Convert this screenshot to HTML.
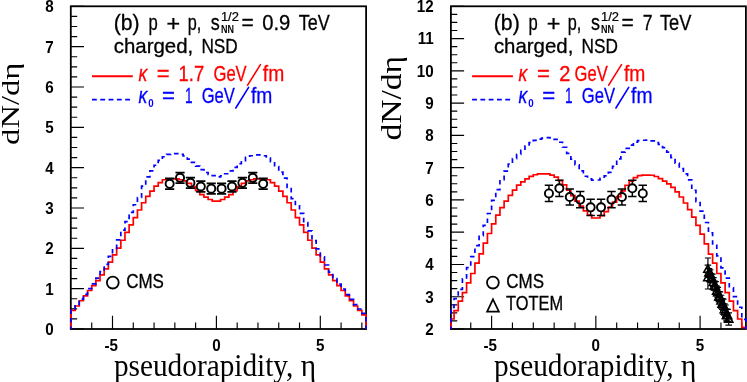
<!DOCTYPE html>
<html><head><meta charset="utf-8"><title>dN/deta</title>
<style>
html,body{margin:0;padding:0;background:#fff;}
body{width:747px;height:382px;overflow:hidden;}
svg{display:block;will-change:transform;}
text{font-family:"Liberation Sans",sans-serif;fill:#000;stroke-width:0;}
.tk{font-weight:bold;font-size:16px;}
.cm{font-size:21.5px;}
.cm,.cm2,.cm3,.cmi{stroke:#000;stroke-width:0.3px;}
.cm2{font-size:20px;}
.cm3{font-size:19.5px;}
.cmi{font-size:21.5px;font-style:italic;}
.sup{font-size:13.2px;stroke:#000;stroke-width:0.25px;}
.sub{font-size:11.5px;font-weight:bold;}
.ax{font-family:"Liberation Serif",serif;font-size:31px;}
.ay{font-family:"Liberation Serif",serif;font-size:24.8px;}
.ay2{font-family:"Liberation Serif",serif;font-size:28.8px;}
</style></head><body>
<svg width="747" height="382" viewBox="0 0 747 382">
<rect width="747" height="382" fill="#fff"/>
<path d="M70.8 329h13.2 M70.8 318.92h6.4 M70.8 308.83h6.4 M70.8 298.75h6.4 M70.8 288.66h13.2 M70.8 278.58h6.4 M70.8 268.49h6.4 M70.8 258.41h6.4 M70.8 248.32h13.2 M70.8 238.24h6.4 M70.8 228.16h6.4 M70.8 218.07h6.4 M70.8 207.99h13.2 M70.8 197.9h6.4 M70.8 187.82h6.4 M70.8 177.73h6.4 M70.8 167.65h13.2 M70.8 157.57h6.4 M70.8 147.48h6.4 M70.8 137.4h6.4 M70.8 127.31h13.2 M70.8 117.23h6.4 M70.8 107.14h6.4 M70.8 97.06h6.4 M70.8 86.98h13.2 M70.8 76.89h6.4 M70.8 66.81h6.4 M70.8 56.72h6.4 M70.8 46.64h13.2 M70.8 36.55h6.4 M70.8 26.47h6.4 M70.8 16.38h6.4 M70.8 6.3h13.2 M91.72 329v-6.4 M112.5 329v-13.2 M133.28 329v-6.4 M154.06 329v-6.4 M174.84 329v-6.4 M195.62 329v-6.4 M216.4 329v-13.2 M237.18 329v-6.4 M257.96 329v-6.4 M278.74 329v-6.4 M299.52 329v-6.4 M320.3 329v-13.2 M341.08 329v-6.4 M361.86 329v-6.4" stroke="#000" stroke-width="1.15" fill="none"/>
<path d="M450.9 329h13.2 M450.9 320.93h6.4 M450.9 312.87h6.4 M450.9 304.8h6.4 M450.9 296.73h13.2 M450.9 288.66h6.4 M450.9 280.6h6.4 M450.9 272.53h6.4 M450.9 264.46h13.2 M450.9 256.39h6.4 M450.9 248.32h6.4 M450.9 240.26h6.4 M450.9 232.19h13.2 M450.9 224.12h6.4 M450.9 216.06h6.4 M450.9 207.99h6.4 M450.9 199.92h13.2 M450.9 191.85h6.4 M450.9 183.79h6.4 M450.9 175.72h6.4 M450.9 167.65h13.2 M450.9 159.58h6.4 M450.9 151.52h6.4 M450.9 143.45h6.4 M450.9 135.38h13.2 M450.9 127.31h6.4 M450.9 119.25h6.4 M450.9 111.18h6.4 M450.9 103.11h13.2 M450.9 95.04h6.4 M450.9 86.97h6.4 M450.9 78.91h6.4 M450.9 70.84h13.2 M450.9 62.77h6.4 M450.9 54.71h6.4 M450.9 46.64h6.4 M450.9 38.57h13.2 M450.9 30.5h6.4 M450.9 22.44h6.4 M450.9 14.37h6.4 M450.9 6.3h13.2 M470.75 329v-6.4 M491.6 329v-13.2 M512.45 329v-6.4 M533.3 329v-6.4 M554.15 329v-6.4 M575 329v-6.4 M595.85 329v-13.2 M616.7 329v-6.4 M637.55 329v-6.4 M658.4 329v-6.4 M679.25 329v-6.4 M700.1 329v-13.2 M720.95 329v-6.4 M741.8 329v-6.4" stroke="#000" stroke-width="1.15" fill="none"/>
<rect x="70.8" y="6.3" width="295.3" height="322.7" fill="none" stroke="#000" stroke-width="1.8"/>
<rect x="450.9" y="6.3" width="295" height="322.7" fill="none" stroke="#000" stroke-width="1.8"/>
<path d="M70.8 329 L70.94 310.44 L75.1 310.44 L75.1 306.01 L79.25 306.01 L79.25 300.76 L83.41 300.76 L83.41 295.92 L87.56 295.92 L87.56 290.48 L91.72 290.48 L91.72 285.64 L95.88 285.64 L95.88 280.6 L100.03 280.6 L100.03 274.95 L104.19 274.95 L104.19 268.9 L108.34 268.9 L108.34 262.04 L112.5 262.04 L112.5 254.94 L116.66 254.94 L116.66 248.12 L120.81 248.12 L120.81 240.26 L124.97 240.26 L124.97 232.39 L129.12 232.39 L129.12 224.93 L133.28 224.93 L133.28 217.67 L137.44 217.67 L137.44 210 L141.59 210 L141.59 202.74 L145.75 202.74 L145.75 196.29 L149.9 196.29 L149.9 191.05 L154.06 191.05 L154.06 186.21 L158.22 186.21 L158.22 182.57 L162.37 182.57 L162.37 179.75 L166.53 179.75 L166.53 178.94 L170.68 178.94 L170.68 178.74 L174.84 178.74 L174.84 178.94 L179 178.94 L179 179.75 L183.15 179.75 L183.15 180.96 L187.31 180.96 L187.31 183.38 L191.46 183.38 L191.46 186.61 L195.62 186.61 L195.62 190.64 L199.78 190.64 L199.78 194.68 L203.93 194.68 L203.93 197.1 L208.09 197.1 L208.09 199.52 L212.24 199.52 L212.24 201.13 L216.4 201.13 L216.4 201.13 L220.56 201.13 L220.56 199.52 L224.71 199.52 L224.71 197.1 L228.87 197.1 L228.87 194.68 L233.02 194.68 L233.02 190.64 L237.18 190.64 L237.18 186.61 L241.34 186.61 L241.34 183.38 L245.49 183.38 L245.49 180.96 L249.65 180.96 L249.65 179.75 L253.8 179.75 L253.8 178.94 L257.96 178.94 L257.96 178.74 L262.12 178.74 L262.12 178.94 L266.27 178.94 L266.27 179.75 L270.43 179.75 L270.43 182.57 L274.58 182.57 L274.58 186.21 L278.74 186.21 L278.74 191.05 L282.9 191.05 L282.9 196.29 L287.05 196.29 L287.05 202.74 L291.21 202.74 L291.21 210 L295.36 210 L295.36 217.67 L299.52 217.67 L299.52 224.93 L303.68 224.93 L303.68 232.39 L307.83 232.39 L307.83 240.26 L311.99 240.26 L311.99 248.12 L316.14 248.12 L316.14 254.94 L320.3 254.94 L320.3 262.04 L324.46 262.04 L324.46 268.9 L328.61 268.9 L328.61 274.95 L332.77 274.95 L332.77 280.6 L336.92 280.6 L336.92 285.64 L341.08 285.64 L341.08 290.48 L345.24 290.48 L345.24 295.92 L349.39 295.92 L349.39 300.76 L353.55 300.76 L353.55 306.01 L357.7 306.01 L357.7 310.44 L361.86 310.44 L361.86 314.88 L366.02 314.88 L366.1 329" stroke="#f00" stroke-width="1.7" fill="none" stroke-linejoin="miter"/>
<path d="M70.8 329 L70.94 308.83 L75.1 308.83 L75.1 304.39 L79.25 304.39 L79.25 299.15 L83.41 299.15 L83.41 294.31 L87.56 294.31 L87.56 288.66 L91.72 288.66 L91.72 283.82 L95.88 283.82 L95.88 278.17 L100.03 278.17 L100.03 271.72 L104.19 271.72 L104.19 264.46 L108.34 264.46 L108.34 256.39 L112.5 256.39 L112.5 248.32 L116.66 248.32 L116.66 239.85 L120.81 239.85 L120.81 230.17 L124.97 230.17 L124.97 221.7 L129.12 221.7 L129.12 212.42 L133.28 212.42 L133.28 204.76 L137.44 204.76 L137.44 197.5 L141.59 197.5 L141.59 186.21 L145.75 186.21 L145.75 176.93 L149.9 176.93 L149.9 170.88 L154.06 170.88 L154.06 165.23 L158.22 165.23 L158.22 160.39 L162.37 160.39 L162.37 156.76 L166.53 156.76 L166.53 154.34 L170.68 154.34 L170.68 153.53 L174.84 153.53 L174.84 153.53 L179 153.53 L179 154.34 L183.15 154.34 L183.15 155.95 L187.31 155.95 L187.31 159.18 L191.46 159.18 L191.46 162.41 L195.62 162.41 L195.62 166.04 L199.78 166.04 L199.78 169.67 L203.93 169.67 L203.93 172.49 L208.09 172.49 L208.09 174.51 L212.24 174.51 L212.24 175.72 L216.4 175.72 L216.4 176.94 L220.56 176.94 L220.56 175.74 L224.71 175.74 L224.71 173.74 L228.87 173.74 L228.87 170.94 L233.02 170.94 L233.02 167.34 L237.18 167.34 L237.18 163.74 L241.34 163.74 L241.34 160.54 L245.49 160.54 L245.49 157.34 L249.65 157.34 L249.65 155.74 L253.8 155.74 L253.8 154.94 L257.96 154.94 L257.96 154.94 L262.12 154.94 L262.12 155.74 L266.27 155.74 L266.27 158.14 L270.43 158.14 L270.43 161.74 L274.58 161.74 L274.58 166.54 L278.74 166.54 L278.74 172.14 L282.9 172.14 L282.9 178.14 L287.05 178.14 L287.05 187.35 L291.21 187.35 L291.21 198.55 L295.36 198.55 L295.36 205.75 L299.52 205.75 L299.52 213.36 L303.68 213.36 L303.68 222.56 L307.83 222.56 L307.83 230.96 L311.99 230.96 L311.99 240.57 L316.14 240.57 L316.14 248.97 L320.3 248.97 L320.3 256.97 L324.46 256.97 L324.46 264.98 L328.61 264.98 L328.61 272.18 L332.77 272.18 L332.77 278.58 L336.92 278.58 L336.92 284.18 L341.08 284.18 L341.08 288.99 L345.24 288.99 L345.24 294.59 L349.39 294.59 L349.39 299.39 L353.55 299.39 L353.55 304.59 L357.7 304.59 L357.7 308.99 L361.86 308.99 L361.86 313.39 L366.02 313.39 L366.1 329" stroke="#00f" stroke-width="1.7" fill="none" stroke-dasharray="4.6 3.9" stroke-dashoffset="2"/>
<path d="M450.9 329 L450.9 319 L454.07 319 L454.07 310.61 L458.24 310.61 L458.24 301.09 L462.41 301.09 L462.41 292.53 L466.58 292.53 L466.58 282.85 L470.75 282.85 L470.75 273.5 L474.92 273.5 L474.92 263.17 L479.09 263.17 L479.09 253.81 L483.26 253.81 L483.26 243.16 L487.43 243.16 L487.43 233.48 L491.6 233.48 L491.6 223.8 L495.77 223.8 L495.77 215.09 L499.94 215.09 L499.94 207.66 L504.11 207.66 L504.11 201.21 L508.28 201.21 L508.28 195.4 L512.45 195.4 L512.45 190.08 L516.62 190.08 L516.62 185.08 L520.79 185.08 L520.79 181.85 L524.96 181.85 L524.96 178.94 L529.13 178.94 L529.13 176.36 L533.3 176.36 L533.3 174.75 L537.47 174.75 L537.47 173.94 L541.64 173.94 L541.64 173.94 L545.81 173.94 L545.81 173.94 L549.98 173.94 L549.98 175.07 L554.15 175.07 L554.15 177.17 L558.32 177.17 L558.32 180.56 L562.49 180.56 L562.49 184.91 L566.66 184.91 L566.66 190.08 L570.83 190.08 L570.83 195.72 L575 195.72 L575 201.05 L579.17 201.05 L579.17 206.05 L583.34 206.05 L583.34 210.89 L587.51 210.89 L587.51 215.09 L591.68 215.09 L591.68 217.99 L595.85 217.99 L595.85 217.99 L600.02 217.99 L600.02 215.57 L604.19 215.57 L604.19 211.7 L608.36 211.7 L608.36 207.18 L612.53 207.18 L612.53 202.18 L616.7 202.18 L616.7 196.69 L620.87 196.69 L620.87 190.88 L625.04 190.88 L625.04 185.24 L629.21 185.24 L629.21 181.2 L633.38 181.2 L633.38 177.65 L637.55 177.65 L637.55 175.72 L641.72 175.72 L641.72 175.07 L645.89 175.07 L645.89 175.07 L650.06 175.07 L650.06 175.23 L654.23 175.23 L654.23 176.52 L658.4 176.52 L658.4 178.62 L662.57 178.62 L662.57 181.2 L666.74 181.2 L666.74 183.79 L670.91 183.79 L670.91 187.33 L675.08 187.33 L675.08 191.85 L679.25 191.85 L679.25 197.02 L683.42 197.02 L683.42 202.99 L687.59 202.99 L687.59 209.6 L691.76 209.6 L691.76 217.18 L695.93 217.18 L695.93 225.41 L700.1 225.41 L700.1 234.13 L704.27 234.13 L704.27 243.81 L708.44 243.81 L708.44 254.13 L712.61 254.13 L712.61 263.17 L716.78 263.17 L716.78 273.5 L720.95 273.5 L720.95 282.85 L725.12 282.85 L725.12 292.53 L729.29 292.53 L729.29 301.09 L733.46 301.09 L733.46 310.61 L737.63 310.61 L737.63 319 L741.8 319 L741.8 327.39 L745.9 327.39 L745.9 329" stroke="#f00" stroke-width="1.7" fill="none" stroke-linejoin="miter"/>
<path d="M450.9 329 L450.9 307.38 L454.07 307.38 L454.07 298.53 L458.24 298.53 L458.24 289.31 L462.41 289.31 L462.41 278.77 L466.58 278.77 L466.58 267.69 L470.75 267.69 L470.75 256.53 L474.92 256.53 L474.92 245.71 L479.09 245.71 L479.09 235.59 L483.26 235.59 L483.26 225.33 L487.43 225.33 L487.43 213.51 L491.6 213.51 L491.6 200.42 L495.77 200.42 L495.77 189.59 L499.94 189.59 L499.94 179.59 L504.11 179.59 L504.11 171.11 L508.28 171.11 L508.28 164.21 L512.45 164.21 L512.45 158.54 L516.62 158.54 L516.62 154.31 L520.79 154.31 L520.79 150.46 L524.96 150.46 L524.96 146 L529.13 146 L529.13 142.62 L533.3 142.62 L533.3 140.31 L537.47 140.31 L537.47 139.05 L541.64 139.05 L541.64 138.15 L545.81 138.15 L545.81 137.67 L549.98 137.67 L549.98 138 L554.15 138 L554.15 139.45 L558.32 139.45 L558.32 142.24 L562.49 142.24 L562.49 147.27 L566.66 147.27 L566.66 153.42 L570.83 153.42 L570.83 159.13 L575 159.13 L575 164.8 L579.17 164.8 L579.17 170.92 L583.34 170.92 L583.34 176.26 L587.51 176.26 L587.51 178.9 L591.68 178.9 L591.68 180.04 L595.85 180.04 L595.85 179.98 L600.02 179.98 L600.02 178.3 L604.19 178.3 L604.19 175.88 L608.36 175.88 L608.36 172.36 L612.53 172.36 L612.53 166.46 L616.7 166.46 L616.7 158.86 L620.87 158.86 L620.87 152.22 L625.04 152.22 L625.04 148.28 L629.21 148.28 L629.21 145.05 L633.38 145.05 L633.38 142.06 L637.55 142.06 L637.55 140.71 L641.72 140.71 L641.72 140.24 L645.89 140.24 L645.89 140.06 L650.06 140.06 L650.06 140.89 L654.23 140.89 L654.23 142.48 L658.4 142.48 L658.4 144.42 L662.57 144.42 L662.57 147.64 L666.74 147.64 L666.74 152.16 L670.91 152.16 L670.91 157.65 L675.08 157.65 L675.08 163.13 L679.25 163.13 L679.25 168.62 L683.42 168.62 L683.42 173.78 L687.59 173.78 L687.59 179.91 L691.76 179.91 L691.76 190.24 L695.93 190.24 L695.93 201.53 L700.1 201.53 L700.1 211.21 L704.27 211.21 L704.27 222.51 L708.44 222.51 L708.44 232.84 L712.61 232.84 L712.61 243.85 L716.78 243.85 L716.78 255.88 L720.95 255.88 L720.95 267.82 L725.12 267.82 L725.12 278.14 L729.29 278.14 L729.29 287.78 L733.46 287.78 L733.46 296.7 L737.63 296.7 L737.63 307.23 L741.8 307.23 L741.8 319.32 L745.9 319.32 L745.9 329" stroke="#00f" stroke-width="1.7" fill="none" stroke-dasharray="4.6 3.9" stroke-dashoffset="2"/>
<text transform="translate(53.6 334.9) scale(0.95 1)" text-anchor="end" class="tk">0</text>
<text transform="translate(53.6 294.56) scale(0.95 1)" text-anchor="end" class="tk">1</text>
<text transform="translate(53.6 254.22) scale(0.95 1)" text-anchor="end" class="tk">2</text>
<text transform="translate(53.6 213.89) scale(0.95 1)" text-anchor="end" class="tk">3</text>
<text transform="translate(53.6 173.55) scale(0.95 1)" text-anchor="end" class="tk">4</text>
<text transform="translate(53.6 133.21) scale(0.95 1)" text-anchor="end" class="tk">5</text>
<text transform="translate(53.6 92.88) scale(0.95 1)" text-anchor="end" class="tk">6</text>
<text transform="translate(53.6 52.54) scale(0.95 1)" text-anchor="end" class="tk">7</text>
<text transform="translate(53.6 12.2) scale(0.95 1)" text-anchor="end" class="tk">8</text>
<text transform="translate(111.2 351.4) scale(0.95 1)" text-anchor="middle" class="tk">-5</text>
<text transform="translate(216.4 351.4) scale(0.95 1)" text-anchor="middle" class="tk">0</text>
<text transform="translate(320.3 351.4) scale(0.95 1)" text-anchor="middle" class="tk">5</text>
<text transform="translate(433.7 334.9) scale(0.95 1)" text-anchor="end" class="tk">2</text>
<text transform="translate(433.7 302.63) scale(0.95 1)" text-anchor="end" class="tk">3</text>
<text transform="translate(433.7 270.36) scale(0.95 1)" text-anchor="end" class="tk">4</text>
<text transform="translate(433.7 238.09) scale(0.95 1)" text-anchor="end" class="tk">5</text>
<text transform="translate(433.7 205.82) scale(0.95 1)" text-anchor="end" class="tk">6</text>
<text transform="translate(433.7 173.55) scale(0.95 1)" text-anchor="end" class="tk">7</text>
<text transform="translate(433.7 141.28) scale(0.95 1)" text-anchor="end" class="tk">8</text>
<text transform="translate(433.7 109.01) scale(0.95 1)" text-anchor="end" class="tk">9</text>
<text transform="translate(433.7 76.74) scale(0.95 1)" text-anchor="end" class="tk">10</text>
<text transform="translate(433.7 44.47) scale(0.95 1)" text-anchor="end" class="tk">11</text>
<text transform="translate(433.7 12.2) scale(0.95 1)" text-anchor="end" class="tk">12</text>
<text transform="translate(490.3 351.4) scale(0.95 1)" text-anchor="middle" class="tk">-5</text>
<text transform="translate(595.85 351.4) scale(0.95 1)" text-anchor="middle" class="tk">0</text>
<text transform="translate(700.1 351.4) scale(0.95 1)" text-anchor="middle" class="tk">5</text>
<path d="M169.65 178.48V179.73 M169.65 187.84V189.09 M165.05 178.48h9.2 M165.05 189.09h9.2" stroke="#000" stroke-width="1.8" fill="none"/>
<circle cx="169.65" cy="183.78" r="4.05" fill="none" stroke="#000" stroke-width="1.9"/>
<path d="M180.03 172.56V173.81 M180.03 181.91V183.16 M175.44 172.56h9.2 M175.44 183.16h9.2" stroke="#000" stroke-width="1.8" fill="none"/>
<circle cx="180.03" cy="177.86" r="4.05" fill="none" stroke="#000" stroke-width="1.9"/>
<path d="M190.43 177.56V178.81 M190.43 186.91V188.16 M185.83 177.56h9.2 M185.83 188.16h9.2" stroke="#000" stroke-width="1.8" fill="none"/>
<circle cx="190.43" cy="182.86" r="4.05" fill="none" stroke="#000" stroke-width="1.9"/>
<path d="M200.81 181.19V182.44 M200.81 190.54V191.79 M196.22 181.19h9.2 M196.22 191.79h9.2" stroke="#000" stroke-width="1.8" fill="none"/>
<circle cx="200.81" cy="186.49" r="4.05" fill="none" stroke="#000" stroke-width="1.9"/>
<path d="M211.21 183.33V184.58 M211.21 192.68V193.93 M206.61 183.33h9.2 M206.61 193.93h9.2" stroke="#000" stroke-width="1.8" fill="none"/>
<circle cx="211.21" cy="188.63" r="4.05" fill="none" stroke="#000" stroke-width="1.9"/>
<path d="M221.59 183.33V184.58 M221.59 192.68V193.93 M217 183.33h9.2 M217 193.93h9.2" stroke="#000" stroke-width="1.8" fill="none"/>
<circle cx="221.59" cy="188.63" r="4.05" fill="none" stroke="#000" stroke-width="1.9"/>
<path d="M231.99 181.19V182.44 M231.99 190.54V191.79 M227.39 181.19h9.2 M227.39 191.79h9.2" stroke="#000" stroke-width="1.8" fill="none"/>
<circle cx="231.99" cy="186.49" r="4.05" fill="none" stroke="#000" stroke-width="1.9"/>
<path d="M242.38 177.56V178.81 M242.38 186.91V188.16 M237.78 177.56h9.2 M237.78 188.16h9.2" stroke="#000" stroke-width="1.8" fill="none"/>
<circle cx="242.38" cy="182.86" r="4.05" fill="none" stroke="#000" stroke-width="1.9"/>
<path d="M252.77 172.56V173.81 M252.77 181.91V183.16 M248.17 172.56h9.2 M248.17 183.16h9.2" stroke="#000" stroke-width="1.8" fill="none"/>
<circle cx="252.77" cy="177.86" r="4.05" fill="none" stroke="#000" stroke-width="1.9"/>
<path d="M263.16 178.48V179.73 M263.16 187.84V189.09 M258.56 178.48h9.2 M258.56 189.09h9.2" stroke="#000" stroke-width="1.8" fill="none"/>
<circle cx="263.16" cy="183.78" r="4.05" fill="none" stroke="#000" stroke-width="1.9"/>
<path d="M548.94 185.37V189.42 M548.94 197.52V201.57 M544.74 185.37h8.4 M544.74 201.57h8.4" stroke="#000" stroke-width="1.5" fill="none"/>
<circle cx="548.94" cy="193.47" r="4.05" fill="none" stroke="#000" stroke-width="1.9"/>
<path d="M559.36 180.2V184.25 M559.36 192.35V196.4 M555.16 180.2h8.4 M555.16 196.4h8.4" stroke="#000" stroke-width="1.5" fill="none"/>
<circle cx="559.36" cy="188.3" r="4.05" fill="none" stroke="#000" stroke-width="1.9"/>
<path d="M569.79 188.92V192.97 M569.79 201.07V205.12 M565.59 188.92h8.4 M565.59 205.12h8.4" stroke="#000" stroke-width="1.5" fill="none"/>
<circle cx="569.79" cy="197.02" r="4.05" fill="none" stroke="#000" stroke-width="1.9"/>
<path d="M580.21 191.5V195.55 M580.21 203.65V207.7 M576.01 191.5h8.4 M576.01 207.7h8.4" stroke="#000" stroke-width="1.5" fill="none"/>
<circle cx="580.21" cy="199.6" r="4.05" fill="none" stroke="#000" stroke-width="1.9"/>
<path d="M590.64 199.24V203.29 M590.64 211.39V215.44 M586.44 199.24h8.4 M586.44 215.44h8.4" stroke="#000" stroke-width="1.5" fill="none"/>
<circle cx="590.64" cy="207.34" r="4.05" fill="none" stroke="#000" stroke-width="1.9"/>
<path d="M601.06 199.24V203.29 M601.06 211.39V215.44 M596.86 199.24h8.4 M596.86 215.44h8.4" stroke="#000" stroke-width="1.5" fill="none"/>
<circle cx="601.06" cy="207.34" r="4.05" fill="none" stroke="#000" stroke-width="1.9"/>
<path d="M611.49 191.5V195.55 M611.49 203.65V207.7 M607.29 191.5h8.4 M607.29 207.7h8.4" stroke="#000" stroke-width="1.5" fill="none"/>
<circle cx="611.49" cy="199.6" r="4.05" fill="none" stroke="#000" stroke-width="1.9"/>
<path d="M621.91 188.92V192.97 M621.91 201.07V205.12 M617.71 188.92h8.4 M617.71 205.12h8.4" stroke="#000" stroke-width="1.5" fill="none"/>
<circle cx="621.91" cy="197.02" r="4.05" fill="none" stroke="#000" stroke-width="1.9"/>
<path d="M632.34 180.2V184.25 M632.34 192.35V196.4 M628.14 180.2h8.4 M628.14 196.4h8.4" stroke="#000" stroke-width="1.5" fill="none"/>
<circle cx="632.34" cy="188.3" r="4.05" fill="none" stroke="#000" stroke-width="1.9"/>
<path d="M642.76 185.37V189.42 M642.76 197.52V201.57 M638.56 185.37h8.4 M638.56 201.57h8.4" stroke="#000" stroke-width="1.5" fill="none"/>
<circle cx="642.76" cy="193.47" r="4.05" fill="none" stroke="#000" stroke-width="1.9"/>
<path d="M707.92 258.01V288.99 M704.82 258.01h6.2 M704.82 288.99h6.2" stroke="#000" stroke-width="1.2" fill="none"/>
<path d="M707.92 273.07L712.22 280.81L703.62 280.81Z" fill="none" stroke="#000" stroke-width="1.5" stroke-linejoin="miter"/>
<path d="M707.92 265.11V272.85 M704.62 265.11h6.6 M704.62 272.85h6.6" stroke="#000" stroke-width="1.2" fill="none"/>
<path d="M707.92 264.78L712.12 272.34L703.72 272.34Z" fill="none" stroke="#000" stroke-width="1.5" stroke-linejoin="miter"/>
<path d="M709.01 268.59V276.57 M705.71 268.59h6.6 M705.71 276.57h6.6" stroke="#000" stroke-width="1.2" fill="none"/>
<path d="M709.01 268.38L713.21 275.94L704.81 275.94Z" fill="none" stroke="#000" stroke-width="1.5" stroke-linejoin="miter"/>
<path d="M710.11 269.81V278.03 M706.81 269.81h6.6 M706.81 278.03h6.6" stroke="#000" stroke-width="1.2" fill="none"/>
<path d="M710.11 269.72L714.31 277.28L705.91 277.28Z" fill="none" stroke="#000" stroke-width="1.5" stroke-linejoin="miter"/>
<path d="M711.2 273.94V282.4 M707.9 273.94h6.6 M707.9 282.4h6.6" stroke="#000" stroke-width="1.2" fill="none"/>
<path d="M711.2 273.97L715.4 281.53L707 281.53Z" fill="none" stroke="#000" stroke-width="1.5" stroke-linejoin="miter"/>
<path d="M712.3 274.19V282.89 M709 274.19h6.6 M709 282.89h6.6" stroke="#000" stroke-width="1.2" fill="none"/>
<path d="M712.3 274.34L716.5 281.9L708.1 281.9Z" fill="none" stroke="#000" stroke-width="1.5" stroke-linejoin="miter"/>
<path d="M713.39 277.67V286.61 M710.09 277.67h6.6 M710.09 286.61h6.6" stroke="#000" stroke-width="1.2" fill="none"/>
<path d="M713.39 277.94L717.59 285.5L709.19 285.5Z" fill="none" stroke="#000" stroke-width="1.5" stroke-linejoin="miter"/>
<path d="M714.49 280.99V290.17 M711.19 280.99h6.6 M711.19 290.17h6.6" stroke="#000" stroke-width="1.2" fill="none"/>
<path d="M714.49 281.38L718.69 288.94L710.29 288.94Z" fill="none" stroke="#000" stroke-width="1.5" stroke-linejoin="miter"/>
<path d="M715.58 281.57V290.98 M712.28 281.57h6.6 M712.28 290.98h6.6" stroke="#000" stroke-width="1.2" fill="none"/>
<path d="M715.58 282.08L719.78 289.64L711.38 289.64Z" fill="none" stroke="#000" stroke-width="1.5" stroke-linejoin="miter"/>
<path d="M716.68 286.18V295.83 M713.38 286.18h6.6 M713.38 295.83h6.6" stroke="#000" stroke-width="1.2" fill="none"/>
<path d="M716.68 286.81L720.88 294.37L712.48 294.37Z" fill="none" stroke="#000" stroke-width="1.5" stroke-linejoin="miter"/>
<path d="M717.77 287.41V297.29 M714.47 287.41h6.6 M714.47 297.29h6.6" stroke="#000" stroke-width="1.2" fill="none"/>
<path d="M717.77 288.15L721.97 295.71L713.57 295.71Z" fill="none" stroke="#000" stroke-width="1.5" stroke-linejoin="miter"/>
<path d="M718.87 291.53V301.66 M715.57 291.53h6.6 M715.57 301.66h6.6" stroke="#000" stroke-width="1.2" fill="none"/>
<path d="M718.87 292.39L723.07 299.95L714.66 299.95Z" fill="none" stroke="#000" stroke-width="1.5" stroke-linejoin="miter"/>
<path d="M719.96 291.79V302.15 M716.66 291.79h6.6 M716.66 302.15h6.6" stroke="#000" stroke-width="1.2" fill="none"/>
<path d="M719.96 292.77L724.16 300.33L715.76 300.33Z" fill="none" stroke="#000" stroke-width="1.5" stroke-linejoin="miter"/>
<path d="M721.05 295.27V305.87 M717.75 295.27h6.6 M717.75 305.87h6.6" stroke="#000" stroke-width="1.2" fill="none"/>
<path d="M721.05 296.37L725.25 303.93L716.85 303.93Z" fill="none" stroke="#000" stroke-width="1.5" stroke-linejoin="miter"/>
<path d="M722.15 298.59V309.43 M718.85 298.59h6.6 M718.85 309.43h6.6" stroke="#000" stroke-width="1.2" fill="none"/>
<path d="M722.15 299.81L726.35 307.37L717.95 307.37Z" fill="none" stroke="#000" stroke-width="1.5" stroke-linejoin="miter"/>
<path d="M723.24 299.17V310.24 M719.94 299.17h6.6 M719.94 310.24h6.6" stroke="#000" stroke-width="1.2" fill="none"/>
<path d="M723.24 300.5L727.44 308.06L719.04 308.06Z" fill="none" stroke="#000" stroke-width="1.5" stroke-linejoin="miter"/>
<path d="M724.34 303.78V315.09 M721.04 303.78h6.6 M721.04 315.09h6.6" stroke="#000" stroke-width="1.2" fill="none"/>
<path d="M724.34 305.23L728.54 312.79L720.14 312.79Z" fill="none" stroke="#000" stroke-width="1.5" stroke-linejoin="miter"/>
<path d="M725.43 305V316.55 M722.13 305h6.6 M722.13 316.55h6.6" stroke="#000" stroke-width="1.2" fill="none"/>
<path d="M725.43 306.58L729.63 314.14L721.23 314.14Z" fill="none" stroke="#000" stroke-width="1.5" stroke-linejoin="miter"/>
<path d="M726.53 309.13V320.92 M723.23 309.13h6.6 M723.23 320.92h6.6" stroke="#000" stroke-width="1.2" fill="none"/>
<path d="M726.53 310.82L730.73 318.38L722.33 318.38Z" fill="none" stroke="#000" stroke-width="1.5" stroke-linejoin="miter"/>
<path d="M727.62 309.38V321.41 M724.32 309.38h6.6 M724.32 321.41h6.6" stroke="#000" stroke-width="1.2" fill="none"/>
<path d="M727.62 311.2L731.82 318.76L723.42 318.76Z" fill="none" stroke="#000" stroke-width="1.5" stroke-linejoin="miter"/>
<path d="M728.72 312.87V325.13 M725.42 312.87h6.6 M725.42 325.13h6.6" stroke="#000" stroke-width="1.2" fill="none"/>
<path d="M728.72 314.8L732.92 322.36L724.52 322.36Z" fill="none" stroke="#000" stroke-width="1.5" stroke-linejoin="miter"/>
<text transform="translate(113.7 30.4) scale(0.9867 1.0500)" class="cm">(b)</text>
<text transform="translate(148.4 30.3) scale(0.7750 1.0000)" class="cm">p</text>
<text transform="translate(166.6 30.6) scale(1.0880 1.0400)" class="cm">+</text>
<text transform="translate(187.7 30.3) scale(0.7552 1.0000)" class="cm">p,</text>
<text transform="translate(210.8 30.3) scale(0.8372 1.0000)" class="cm">s</text>
<text transform="translate(220.9 21.2) scale(0.9778 1.0000)" class="sup">1/2</text>
<text transform="translate(221 32.7) scale(0.7820 1.0000)" class="sub">NN</text>
<text transform="translate(241.5 30.3) scale(0.9760 1.0000)" class="cm">=</text>
<text transform="translate(113.8 52.8) scale(1.0209 1.0000)" class="cm2">charged,</text>
<text transform="translate(201.4 52.8) scale(0.8615 1.0000)" class="cm2">NSD</text>
<path d="M92 76.3H132.8" stroke="#f00" stroke-width="1.9"/>
<path d="M92 99.6H130.2" stroke="#00f" stroke-width="1.9" stroke-dasharray="4.8 3.5"/>
<text transform="translate(138.4 80.5) scale(0.8170 1.0000)" class="cmi" style="fill:#f00;stroke:#f00">&#954;</text>
<text transform="translate(156.8 80.5) scale(1.0240 1.0000)" class="cm" style="fill:#f00;stroke:#f00">=</text>
<text transform="translate(138.4 103.3) scale(0.8170 1.0000)" class="cmi" style="fill:#00f;stroke:#00f">&#954;</text>
<text transform="translate(148.2 106.8) scale(0.8471 1.0000)" class="sub" style="fill:#00f;stroke:#00f">0</text>
<text transform="translate(162.1 103.3) scale(1.0320 1.0000)" class="cm" style="fill:#00f;stroke:#00f">=</text>
<text transform="translate(185 103.3) scale(0.6333 1.0000)" class="cm" style="fill:#00f;stroke:#00f">1</text>
<text transform="translate(201.7 103.3) scale(0.7721 1.0000)" class="cm" style="fill:#00f;stroke:#00f">GeV</text>
<path d="M235.8 108L248.6 87.4" stroke="#00f" stroke-width="1.6" stroke-linecap="round"/>
<text transform="translate(251 103.3) scale(0.8963 1.0000)" class="cm" style="fill:#00f;stroke:#00f">fm</text>
<circle cx="112.8" cy="282.6" r="5.9" fill="none" stroke="#000" stroke-width="1.8"/>
<text transform="translate(126.2 287.7) scale(0.8715 1.0000)" class="cm3">CMS</text>
<text transform="translate(493.8 30.4) scale(0.9867 1.0500)" class="cm">(b)</text>
<text transform="translate(528.5 30.3) scale(0.7750 1.0000)" class="cm">p</text>
<text transform="translate(546.7 30.6) scale(1.0880 1.0400)" class="cm">+</text>
<text transform="translate(567.8 30.3) scale(0.7552 1.0000)" class="cm">p,</text>
<text transform="translate(590.9 30.3) scale(0.8372 1.0000)" class="cm">s</text>
<text transform="translate(601 21.2) scale(0.9778 1.0000)" class="sup">1/2</text>
<text transform="translate(601.1 32.7) scale(0.7820 1.0000)" class="sub">NN</text>
<text transform="translate(621.6 30.3) scale(0.9760 1.0000)" class="cm">=</text>
<text transform="translate(493.9 52.8) scale(1.0209 1.0000)" class="cm2">charged,</text>
<text transform="translate(581.5 52.8) scale(0.8615 1.0000)" class="cm2">NSD</text>
<path d="M472.1 76.3H512.9" stroke="#f00" stroke-width="1.9"/>
<path d="M472.1 99.6H510.3" stroke="#00f" stroke-width="1.9" stroke-dasharray="4.8 3.5"/>
<text transform="translate(518.5 80.5) scale(0.8170 1.0000)" class="cmi" style="fill:#f00;stroke:#f00">&#954;</text>
<text transform="translate(536.9 80.5) scale(1.0240 1.0000)" class="cm" style="fill:#f00;stroke:#f00">=</text>
<text transform="translate(518.5 103.3) scale(0.8170 1.0000)" class="cmi" style="fill:#00f;stroke:#00f">&#954;</text>
<text transform="translate(528.3 106.8) scale(0.8471 1.0000)" class="sub" style="fill:#00f;stroke:#00f">0</text>
<text transform="translate(542.2 103.3) scale(1.0320 1.0000)" class="cm" style="fill:#00f;stroke:#00f">=</text>
<text transform="translate(565.1 103.3) scale(0.6333 1.0000)" class="cm" style="fill:#00f;stroke:#00f">1</text>
<text transform="translate(581.8 103.3) scale(0.7721 1.0000)" class="cm" style="fill:#00f;stroke:#00f">GeV</text>
<path d="M615.9 108L628.7 87.4" stroke="#00f" stroke-width="1.6" stroke-linecap="round"/>
<text transform="translate(631.1 103.3) scale(0.8963 1.0000)" class="cm" style="fill:#00f;stroke:#00f">fm</text>
<circle cx="492.9" cy="282.6" r="5.9" fill="none" stroke="#000" stroke-width="1.8"/>
<text transform="translate(506.3 287.7) scale(0.8715 1.0000)" class="cm3">CMS</text>
<text transform="translate(262.2 30.3) scale(0.9406 1.0000)" class="cm">0.9</text>
<text transform="translate(298.7 30.3) scale(0.8351 1.0000)" class="cm">TeV</text>
<text transform="translate(642.7 30.3) scale(0.8167 1.0000)" class="cm">7</text>
<text transform="translate(660 30.3) scale(0.8486 1.0000)" class="cm">TeV</text>
<text transform="translate(178.6 80.5) scale(0.8569 1.0000)" class="cm" style="fill:#f00;stroke:#f00">1.7</text>
<text transform="translate(213.5 80.5) scale(0.7721 1.0000)" class="cm" style="fill:#f00;stroke:#f00">GeV</text>
<path d="M247.6 85.2L260.4 64.6" stroke="#f00" stroke-width="1.6" stroke-linecap="round"/>
<text transform="translate(262.8 80.5) scale(0.8963 1.0000)" class="cm" style="fill:#f00;stroke:#f00">fm</text>
<text transform="translate(559.2 80.5) scale(0.9333 1.0000)" class="cm" style="fill:#f00;stroke:#f00">2</text>
<text transform="translate(574.6 80.5) scale(0.7721 1.0000)" class="cm" style="fill:#f00;stroke:#f00">GeV</text>
<path d="M608.7 85.2L621.5 64.6" stroke="#f00" stroke-width="1.6" stroke-linecap="round"/>
<text transform="translate(623.9 80.5) scale(0.8963 1.0000)" class="cm" style="fill:#f00;stroke:#f00">fm</text>
<path d="M493 299.3L498.9 311.6H487.1Z" fill="none" stroke="#000" stroke-width="1.7"/>
<text transform="translate(506 310.4) scale(0.8413 1.0000)" class="cm3">TOTEM</text>
<text transform="translate(113.9 375.6) scale(0.9453 1.0000)" class="ax">pseudorapidity, &#951;</text>
<text transform="translate(494.1 375.6) scale(0.9453 1.0000)" class="ax">pseudorapidity, &#951;</text>
<text transform="translate(18.8 144.9) rotate(-90) scale(1.3157 1)" class="ay">dN/d&#951;</text>
<text transform="translate(401 140.6) rotate(-90) scale(1.1662 1)" class="ay2">dN/d&#951;</text>
</svg>
</body></html>
